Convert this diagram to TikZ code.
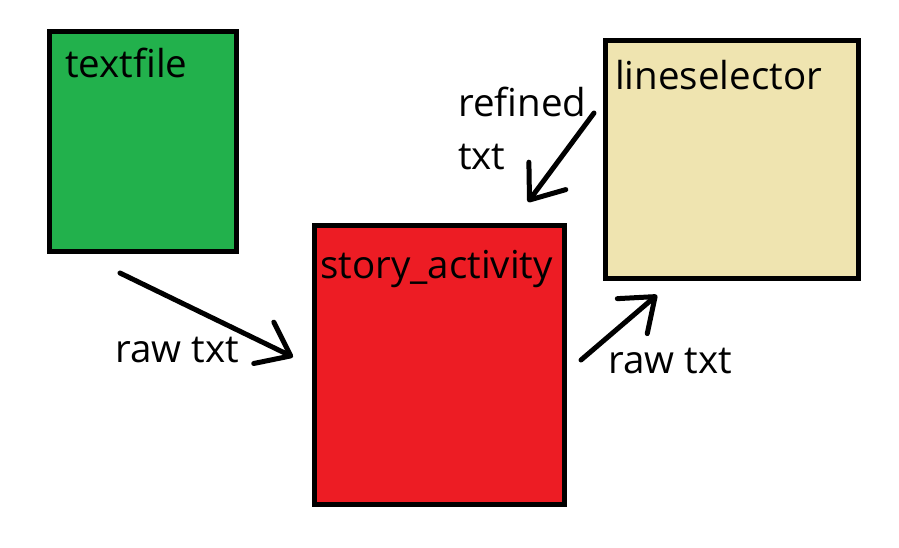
\documentclass[tikz,border=0pt]{standalone}
\usepackage{fontspec}
\setmainfont{Open Sans}
\usetikzlibrary{arrows.meta, positioning}

\definecolor{filegreen}{HTML}{22B14C}
\definecolor{storyred}{HTML}{ED1C24}
\definecolor{selectortan}{HTML}{EFE4B0}

\tikzset{
  box/.style={draw, line width=5pt, inner sep=0pt},
  lbl/.style={anchor=base west, inner sep=0pt, font=\fontsize{38.5}{44}\selectfont},
  flow/.style={->, line width=5pt, line cap=round},
}

\begin{document}
\begin{tikzpicture}[x=1pt, y=-1pt, >={Straight Barb[length=30pt, width=46pt, round]}]
  \useasboundingbox (0,0) rectangle (899,547);
  % the three boxes
  \node [box, fill=filegreen, minimum width=187pt, minimum height=220pt] (textfile) at (143,141.5) {};
  \node [box, fill=storyred, minimum width=250pt, minimum height=279pt] (story) at (439.5,365) {};
  \node [box, fill=selectortan, minimum width=253pt, minimum height=238pt] (selector) at (732,159.5) {};
  \node [lbl] (textfilelbl) at (65,77) {textfile};
  \node [lbl] (storylbl) at (320,278) {story\_activity};
  \node [lbl] (selectorlbl) at (615,89) {lineselector};
  % loose arrow ends
  \coordinate (rawinstart) at (120,273);
  \coordinate (rawinend) at (293,357);
  \coordinate (rawoutstart) at (581,360);
  \coordinate (rawoutend) at (657,295);
  \coordinate (refinedstart) at (594,113);
  \coordinate (refinedend) at (528,202);
  \draw [flow] (rawinstart) -- (rawinend);
  \draw [flow] (rawoutstart) -- (rawoutend);
  \draw [flow] (refinedstart) -- (refinedend);
  \node [lbl] (rawinlbl) at (115,362) {raw txt};
  \node [lbl] (rawoutlbl) at (608,373) {raw txt};
  \node [lbl] (refinedlbl) at (458,116) {refined};
  \node [lbl] (refinedlbltwo) at (458,169) {txt};
\end{tikzpicture}
\end{document}
